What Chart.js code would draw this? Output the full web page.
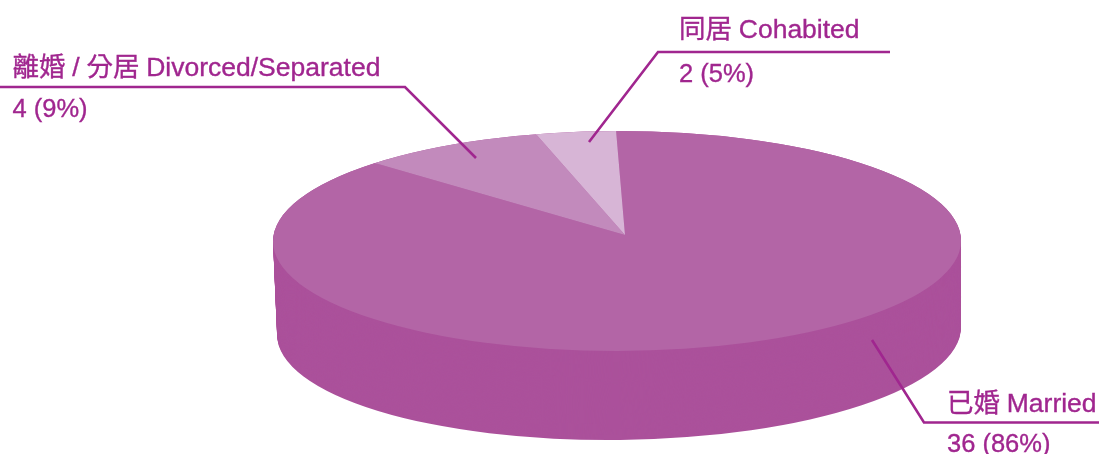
<!DOCTYPE html>
<html lang="en">
<head>
<meta charset="UTF-8">
<title>Marital status</title>
<script src="https://cdn.jsdelivr.net/npm/chart.js@4/dist/chart.umd.min.js"></script>
<style>
    html, body { margin: 0; padding: 0; background: #fff; overflow: hidden; }
    canvas { display: block; }
</style>
</head>
<body>
<canvas id="pie" width="1099" height="454"></canvas>
<script>
// data
const categories = ['已婚 Married', '離婚 / 分居 Divorced/Separated', '同居 Cohabited'];
const counts = [36, 4, 2];
const percents = [86, 9, 5];
const sliceColors = ['#B365A6', '#C28ABC', '#D7B5D6'];

const wallColor = '#AB519B';
const inkColor = '#A0268F';
const nameFont = '26.5px "Liberation Sans", "Noto Sans CJK TC", sans-serif';
const valueFont = '25.5px "Liberation Sans", sans-serif';

// fake 3d: the flat pie gets pushed through this matrix, then cut by the ellipses
const apex = { x: 625, y: 235 };
const tilt = [2.8, -0.052, 0.0944, 1.102];
const topRim = { x: 617, y: 241, rx: 344, ry: 110, rot: -0.001 };
const baseRim = { x: 619, y: 331, rx: 342, ry: 109, rot: -0.0117 };

// one entry per category: label position, value position, leader line
const callouts = [
    { tx: 947, ty: 412, vy: 452, line: [[1099, 422.5], [924, 422.5], [872, 340]] },
    { tx: 12.5, ty: 76, vy: 117, line: [[0, 87], [405, 87], [476, 158]] },
    { tx: 679, ty: 38, vy: 82, line: [[890, 52], [658, 52], [589, 142]] }
];

function clipRim(ctx, r) {
    ctx.beginPath();
    ctx.ellipse(r.x, r.y, r.rx, r.ry, r.rot, 0, Math.PI * 2);
    ctx.clip();
}

function tiltPie(ctx, arc) {
    ctx.translate(apex.x, apex.y);
    ctx.transform(tilt[0], tilt[1], tilt[2], tilt[3], 0, 0);
    ctx.translate(-arc.x, -arc.y);
}

const pie3d = {
    id: 'pie3d',
    beforeDatasetDraw(chart, args) {
        const ctx = chart.ctx;
        const arcs = args.meta.data;
        // side wall, same arcs repainted from the base up to the top rim
        const steps = Math.round(baseRim.y - topRim.y);
        for (let i = steps; i >= 0; i--) {
            const f = i / steps;
            const rim = {};
            for (const k in topRim) rim[k] = topRim[k] + (baseRim[k] - topRim[k]) * f;
            ctx.save();
            clipRim(ctx, rim);
            tiltPie(ctx, arcs[0]);
            arcs.forEach(a => {
                const keep = a.options;
                a.options = Object.assign({}, keep, { backgroundColor: wallColor });
                a.draw(ctx);
                a.options = keep;
            });
            ctx.restore();
        }
        // the top face is the normal dataset draw
        ctx.save();
        clipRim(ctx, topRim);
        tiltPie(ctx, arcs[0]);
    },
    afterDatasetDraw(chart) {
        chart.ctx.restore();
    },
    afterDraw(chart) {
        const ctx = chart.ctx;
        ctx.save();
        ctx.strokeStyle = inkColor;
        ctx.lineWidth = 2.6;
        ctx.lineJoin = 'miter';
        callouts.forEach(c => {
            ctx.beginPath();
            c.line.forEach((p, i) => i ? ctx.lineTo(p[0], p[1]) : ctx.moveTo(p[0], p[1]));
            ctx.stroke();
        });
        ctx.fillStyle = inkColor;
        ctx.lineWidth = 0.35;
        ctx.textAlign = 'left';
        ctx.textBaseline = 'alphabetic';
        categories.forEach((name, i) => {
            const c = callouts[i];
            const value = counts[i] + ' (' + percents[i] + '%)';
            ctx.font = nameFont;
            ctx.wordSpacing = '-0.6px';
            ctx.fillText(name, c.tx, c.ty);
            ctx.strokeText(name, c.tx, c.ty);
            ctx.font = valueFont;
            ctx.wordSpacing = '0px';
            ctx.fillText(value, c.tx, c.vy);
            ctx.strokeText(value, c.tx, c.vy);
        });
        ctx.restore();
    }
};

new Chart(document.getElementById('pie').getContext('2d'), {
    type: 'pie',
    data: {
        labels: categories,
        datasets: [{
            data: counts,
            backgroundColor: sliceColors,
            borderWidth: 0
        }]
    },
    options: {
        responsive: false,
        animation: false,
        events: [],
        layout: { padding: 0 },
        plugins: {
            legend: { display: false },
            tooltip: { enabled: false }
        }
    },
    plugins: [pie3d]
});
</script>
</body>
</html>
